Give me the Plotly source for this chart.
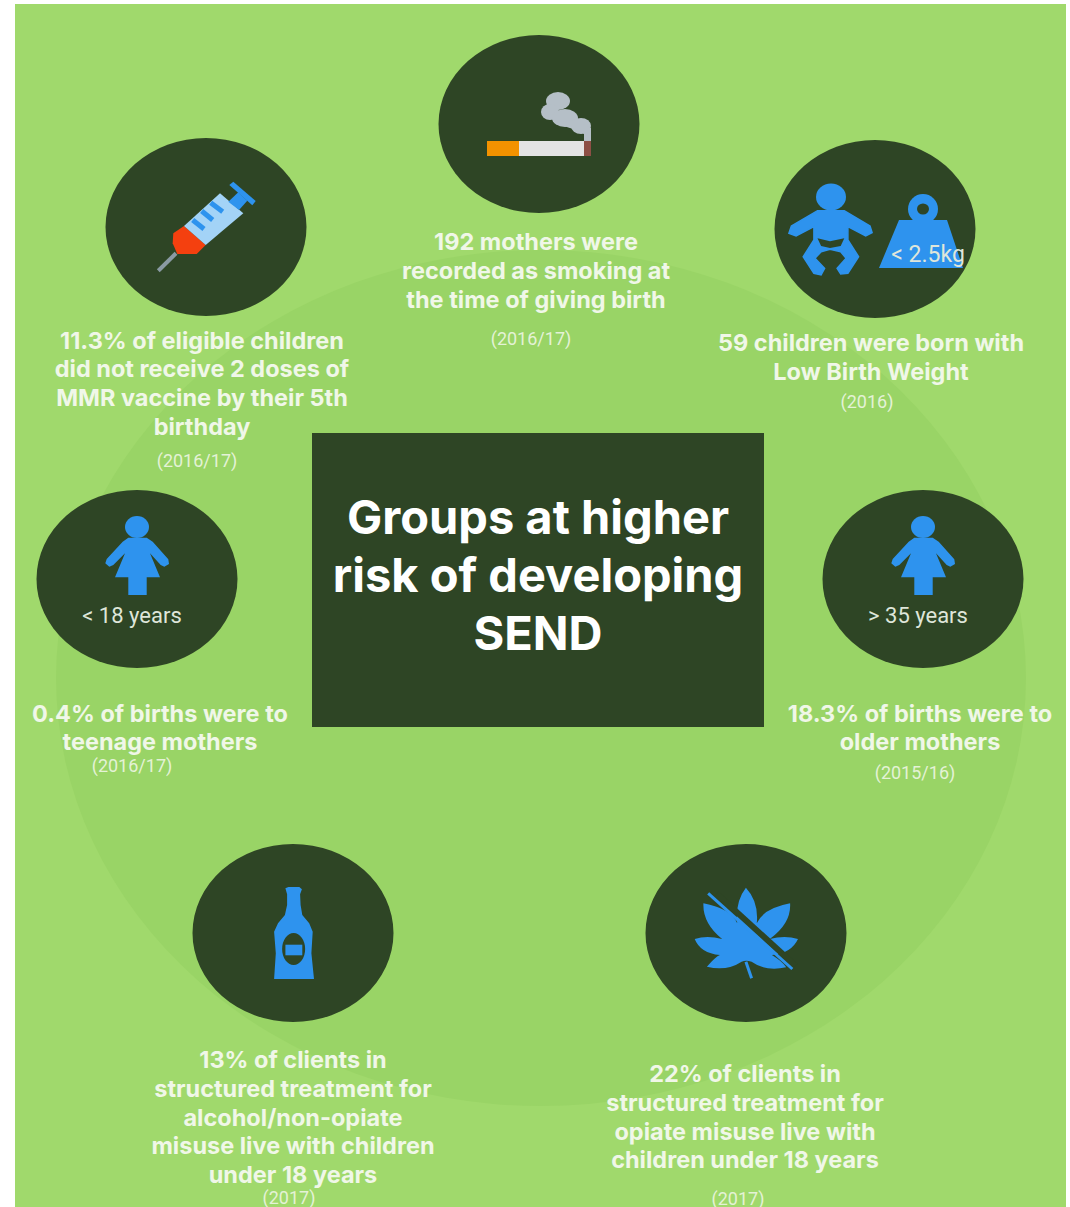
import plotly.graph_objects as go

# ---------- content ----------
circle_cx = [539, 206, 875, 137, 923, 293, 746]
circle_cy = [124, 227, 229, 579, 579, 933, 933]
captions = [
    ["192 mothers were", "recorded as smoking at", "the time of giving birth"],
    ["11.3% of eligible children", "did not receive 2 doses of", "MMR vaccine by their 5th", "birthday"],
    ["59 children were born with", "Low Birth Weight"],
    ["0.4% of births were to", "teenage mothers"],
    ["18.3% of births were to", "older mothers"],
    ["13% of clients in", "structured treatment for", "alcohol/non-opiate", "misuse live with children", "under 18 years"],
    ["22% of clients in", "structured treatment for", "opiate misuse live with", "children under 18 years"],
]
caption_x = [536, 202, 871, 160, 920, 293, 745]
caption_first_y = [244.5, 343, 345.5, 716, 716, 1062.5, 1076.5]
years = ["(2016/17)", "(2016/17)", "(2016)", "(2016/17)", "(2015/16)", "(2017)", "(2017)"]
year_x = [531, 197, 867, 132, 915, 289, 738]
year_y = [340, 462, 403, 767, 774, 1199, 1200]
icon_labels = ["< 2.5kg", "< 18 years", "> 35 years"]
icon_label_x = [928, 132, 918]
icon_label_y = [256, 617, 617]
icon_label_size = [23, 22, 22]
title_lines = ["Groups at higher", "risk of developing", "SEND"]
title_y = [522.5, 580.5, 638.5]

# ---------- colours ----------
BG = "#a0d96c"
HALO = "#99d466"
DARK = "#2e4525"
BLUE = "#2e93ee"
TXT = "#f0f7e8"
LINE_STEP = 28.6

shapes = []


def rect(x0, y0, x1, y1, color):
    shapes.append(dict(type="rect", x0=x0, y0=y0, x1=x1, y1=y1, fillcolor=color,
                       line_width=0, layer="below"))


def oval(cx, cy, rx, ry, color):
    shapes.append(dict(type="circle", x0=cx - rx, x1=cx + rx, y0=cy - ry, y1=cy + ry,
                       fillcolor=color, line_width=0, layer="below"))


def path(d, color=None, stroke=None, width=0):
    s = dict(type="path", path=d, layer="below")
    s["fillcolor"] = color if color else "rgba(0,0,0,0)"
    s["line"] = dict(color=stroke if stroke else "rgba(0,0,0,0)", width=width)
    shapes.append(s)


def poly(points, ox, oy, sx, sy, color, soft=0):
    d = "M " + " L ".join(f"{ox + x / sx:.1f},{oy + y / sy:.1f}" for x, y in points) + " Z"
    path(d, color, color if soft else None, soft)


def seg(a, b, ox, oy, sx, sy, color, width):
    d = f"M {ox + a[0] / sx:.1f},{oy + a[1] / sy:.1f} L {ox + b[0] / sx:.1f},{oy + b[1] / sy:.1f}"
    path(d, None, color, width)


# background
rect(15, 4, 1066, 1207, BG)
oval(541, 678, 485, 428, HALO)
for cx, cy in zip(circle_cx, circle_cy):
    oval(cx, cy, 100.5, 89, DARK)
rect(312, 433, 764, 727, DARK)

# cigarette
rect(487, 141, 519, 156, "#f39200")
rect(519, 141, 584, 156, "#e4e4e4")
rect(584, 141, 591, 156, "#8d4f45")
SMOKE = "#b5bfc7"
oval(558, 101, 12, 9, SMOKE)
oval(550, 112, 9, 8, SMOKE)
oval(565, 118, 13, 9, SMOKE)
oval(581, 126, 10, 8, SMOKE)
path("M 558,122 C 568,130 578,128 584,134 L 584,141 L 591,141 L 591,128 L 575,120 Z", SMOKE)

# syringe
S = (90, 130, 3, 3)
seg((205, 422), (258, 370), *S, "#8a9aa3", 4)
poly([(250, 310), (282, 288), (347, 345), (320, 372), (262, 372), (248, 340)], *S, "#f4400f")
poly([(282, 288), (390, 190), (460, 250), (347, 345)], *S, "#a3d3f7")
for a, b in [((308, 270), (342, 297)), ((335, 243), (368, 270)), ((362, 218), (398, 245))]:
    seg(a, b, *S, BLUE, 5)
poly([(415, 215), (445, 187), (472, 212), (447, 240)], *S, BLUE)
poly([(418, 165), (430, 155), (497, 213), (487, 226)], *S, BLUE)

# baby
BABY = (430, 0, 2.8, 3)
oval(831, 197, 15, 13.5, BLUE)
poly([(1085, 632), (1160, 632), (1232, 678), (1238, 698), (1220, 708), (1170, 680), (1170, 720),
      (1200, 770), (1170, 820), (1150, 822), (1140, 805), (1165, 775), (1150, 755), (1120, 748),
      (1095, 755), (1078, 775), (1105, 805), (1095, 825), (1075, 820), (1045, 770), (1075, 720),
      (1075, 680), (1025, 708), (1005, 700), (1012, 678)], *BABY, BLUE, soft=1.5)
poly([(1085, 715), (1120, 724), (1160, 715), (1150, 738), (1120, 744), (1095, 738)], *BABY, DARK)

# weight
oval(923, 209, 15, 15, BLUE)
oval(923, 209, 6, 5.5, DARK)
path("M 899,220 L 947,220 L 963,268 L 879,268 Z", BLUE)

# women (left and right)
for dx in (0, 786):
    W = (30 + dx, 490, 3, 3)
    oval(137 + dx, 527, 12, 11, BLUE)
    poly([(295, 143), (350, 143), (368, 155), (415, 208), (417, 222), (403, 230), (392, 225),
          (360, 190), (390, 262), (350, 262), (350, 315), (295, 315), (295, 262), (255, 262),
          (285, 190), (250, 225), (238, 230), (226, 220), (230, 207), (278, 155)], *W, BLUE)

# bottle
B = (180, 840, 2.306, 3)
poly([(243, 145), (250, 141), (275, 141), (281, 148), (277, 163), (278, 195), (282, 225),
      (298, 250), (306, 275), (303, 340), (309, 417), (217, 417), (221, 340), (217, 275),
      (226, 250), (242, 225), (247, 195), (247, 163)], *B, BLUE)
oval(180 + 262 / 2.306, 840 + 327 / 3, 11.5, 16, DARK)
poly([(243, 314), (282, 314), (282, 346), (243, 346)], *B, BLUE)

# leaf
L = (180, 840, 2.306, 3)


def leaf_pt(p):
    return f"{L[0] + p[0] / L[2]:.1f},{L[1] + p[1] / L[3]:.1f}"


leaf_start = (1285, 250)
leaf_curves = [
    ((1280, 185), (1305, 143)), ((1335, 185), (1330, 250)),
    ((1345, 205), (1407, 190)), ((1410, 250), (1360, 297)),
    ((1395, 285), (1425, 297)), ((1410, 340), (1365, 345)),
    ((1390, 365), (1398, 382)), ((1350, 395), (1318, 365)),
    ((1305, 360), (1295, 365)),
    ((1260, 395), (1215, 380)), ((1235, 350), (1245, 345)),
    ((1200, 340), (1187, 297)), ((1215, 285), (1250, 297)),
    ((1205, 250), (1207, 190)), ((1270, 205), (1285, 250)),
]
path("M " + leaf_pt(leaf_start) + " " + " ".join(f"Q {leaf_pt(c)} {leaf_pt(e)}" for c, e in leaf_curves) + " Z", BLUE)
seg((1305, 365), (1318, 415), *L, BLUE, 3)
seg((1238, 162), (1420, 378), *L, DARK, 6)
seg((1218, 160), (1412, 387), *L, BLUE, 3)

# ---------- traces ----------
line_x, line_y, line_text = [], [], []
for x, y0, lines in zip(caption_x, caption_first_y, captions):
    for i, t in enumerate(lines):
        line_x.append(x)
        line_y.append(y0 + i * LINE_STEP)
        line_text.append(t)

fig = go.Figure()
fig.add_trace(go.Scatter(
    x=line_x, y=line_y, text=line_text, mode="text", textposition="middle center",
    textfont=dict(family="Inter", size=23.5, color=TXT, weight=700),
    hoverinfo="skip", cliponaxis=False, showlegend=False))
fig.add_trace(go.Scatter(
    x=year_x, y=year_y, text=years, mode="text", textposition="middle center",
    textfont=dict(family="Roboto", size=18, color="#e4f2d6"),
    hoverinfo="skip", cliponaxis=False, showlegend=False))
fig.add_trace(go.Scatter(
    x=icon_label_x, y=icon_label_y, text=icon_labels, mode="text", textposition="middle center",
    textfont=dict(family="Roboto", size=icon_label_size, color="#dfe6da"),
    hoverinfo="skip", cliponaxis=False, showlegend=False))
fig.add_trace(go.Scatter(
    x=[538, 538, 538], y=title_y, text=title_lines, mode="text", textposition="middle center",
    textfont=dict(family="Inter", size=47, color="#ffffff", weight=700),
    hoverinfo="skip", cliponaxis=False, showlegend=False))

fig.update_layout(
    width=1070, height=1207, margin=dict(l=0, r=0, t=0, b=0),
    paper_bgcolor="white", plot_bgcolor="white", shapes=shapes,
    xaxis=dict(range=[0, 1070], visible=False, fixedrange=True),
    yaxis=dict(range=[1207, 0], visible=False, fixedrange=True),
    showlegend=False,
)
fig.write_html("out.html", config={"displayModeBar": False},
               post_script="document.body.style.margin='0';")
